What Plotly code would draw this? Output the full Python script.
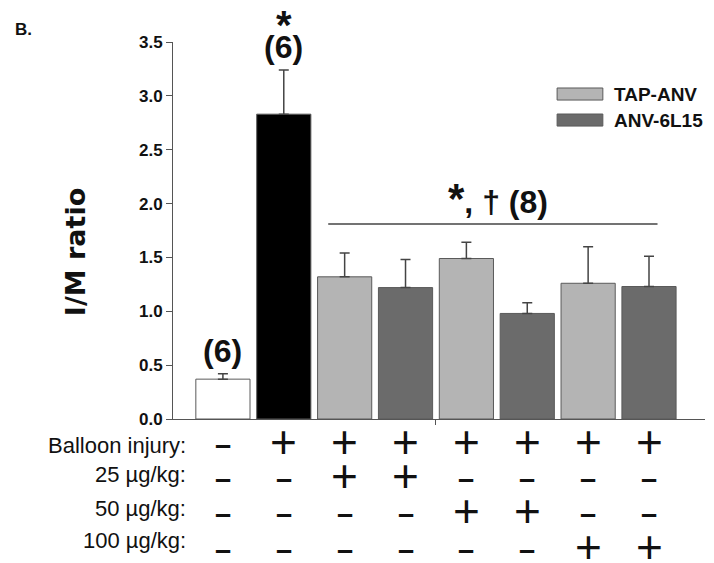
import plotly.graph_objects as go

# ---- data ----
groups = ["Sham", "Injury", "TAP25", "6L15_25", "TAP50", "6L15_50", "TAP100", "6L15_100"]
means = [0.37, 2.83, 1.32, 1.22, 1.49, 0.98, 1.26, 1.23]
sems = [0.05, 0.41, 0.22, 0.26, 0.15, 0.10, 0.34, 0.28]
series = ["Control", "Injury", "TAP-ANV", "ANV-6L15", "TAP-ANV", "ANV-6L15", "TAP-ANV", "ANV-6L15"]
n_labels = ["(6)", "(6)", "", "", "", "", "", ""]
star_labels = ["", "*", "", "", "", "", "", ""]
row_names = ["Balloon injury:", "25 \u00b5g/kg:", "50 \u00b5g/kg:", "100 \u00b5g/kg:"]
row_signs = [
    ["-", "+", "+", "+", "+", "+", "+", "+"],
    ["-", "-", "+", "+", "-", "-", "-", "-"],
    ["-", "-", "-", "-", "+", "+", "-", "-"],
    ["-", "-", "-", "-", "-", "-", "+", "+"],
]
legend_names = ["TAP-ANV", "ANV-6L15"]
group_text = "<span style='font-size:42px'>*</span>, \u2020 (8)"
yticks = [0.0, 0.5, 1.0, 1.5, 2.0, 2.5, 3.0, 3.5]

colors = {"Control": "#ffffff", "Injury": "#000000", "TAP-ANV": "#b4b4b4", "ANV-6L15": "#6b6b6b"}
FONT = "Liberation Sans, Arial, sans-serif"
WIDE = "DejaVu Sans, Liberation Sans, sans-serif"

fig = go.Figure()
for s in ["Control", "Injury", "TAP-ANV", "ANV-6L15"]:
    idx = [i for i, v in enumerate(series) if v == s]
    fig.add_trace(go.Bar(
        x=[groups[i] for i in idx],
        y=[means[i] for i in idx],
        width=0.89,
        marker=dict(color=colors[s], line=dict(color="#5a5a5a", width=1)),
        error_y=dict(type="data", symmetric=False,
                     array=[sems[i] for i in idx],
                     arrayminus=[0 for _ in idx],
                     color="#444444", thickness=1.5, width=5),
        showlegend=False, name=s,
    ))

annotations = []
# n labels and stars
for i, g in enumerate(groups):
    top = means[i] + sems[i]
    if n_labels[i]:
        annotations.append(dict(x=g, y=top, xref="x", yref="y", text="<b>" + n_labels[i] + "</b>",
                                showarrow=False, xanchor="center", yanchor="bottom", yshift=3,
                                font=dict(family=FONT, size=32, color="#111")))
    if star_labels[i]:
        annotations.append(dict(x=g, y=top, xref="x", yref="y", text="<b>" + star_labels[i] + "</b>",
                                showarrow=False, xanchor="center", yanchor="bottom", yshift=21,
                                font=dict(family=FONT, size=40, color="#111")))

# group significance text
annotations.append(dict(x=4.52, y=1.81, xref="x", yref="y", text="<b>" + group_text + "</b>",
                        showarrow=False, xanchor="center", yanchor="bottom",
                        font=dict(family=FONT, size=32, color="#111")))

# y title
annotations.append(dict(x=-0.182, y=0.443, xref="paper", yref="paper", text="<b>I/M ratio</b>",
                        textangle=-90, showarrow=False, xanchor="center", yanchor="middle",
                        font=dict(family=WIDE, size=27, color="#111")))
# panel label
annotations.append(dict(x=-0.30, y=1.034, xref="paper", yref="paper", text="<b>B.</b>",
                        showarrow=False, xanchor="left", yanchor="middle",
                        font=dict(family=FONT, size=17, color="#111")))

# table rows
label_y = [-0.069, -0.148, -0.237, -0.323]
sign_y = [-0.060, -0.151, -0.244, -0.340]
for r, name in enumerate(row_names):
    annotations.append(dict(x=0.029, y=label_y[r], xref="paper", yref="paper", text=name,
                            showarrow=False, xanchor="right", yanchor="middle",
                            font=dict(family=FONT, size=22, color="#111")))
    for i, g in enumerate(groups):
        if row_signs[r][i] == "+":
            txt, fsize, dy = "+", 46, 0
        else:
            txt, fsize, dy = "<b>\u2013</b>", 29, -3
        annotations.append(dict(x=g, y=sign_y[r], xref="x", yref="paper", text=txt,
                                showarrow=False, xanchor="center", yanchor="middle",
                                height=26, yshift=dy,
                                font=dict(family=FONT, size=fsize, color="#111")))

# legend
shapes = []
leg_y = [(0.878, 0.846), (0.809, 0.777)]
for k, name in enumerate(legend_names):
    shapes.append(dict(type="rect", xref="paper", yref="paper", x0=0.722, x1=0.808,
                       y0=leg_y[k][1], y1=leg_y[k][0],
                       fillcolor=colors[name], line=dict(color="#5a5a5a", width=1)))
    annotations.append(dict(x=0.826, y=(leg_y[k][0] + leg_y[k][1]) / 2, xref="paper", yref="paper",
                            text="<b>" + name + "</b>", showarrow=False, xanchor="left", yanchor="middle",
                            font=dict(family=FONT, size=19, color="#111")))

# significance line
shapes.append(dict(type="line", xref="x", yref="y", x0=1.73, x1=7.14, y0=1.81, y1=1.81,
                   line=dict(color="#444444", width=1.5)))

# page body adds an 8px offset, so the figure is 8px smaller and shifted
fig.update_layout(
    width=706, height=555,
    margin=dict(l=165, r=9, t=34, b=144, autoexpand=False),
    paper_bgcolor="white", plot_bgcolor="white",
    barmode="overlay",
    annotations=annotations, shapes=shapes,
    xaxis=dict(type="category", categoryorder="array", categoryarray=groups,
               range=[-0.82, 7.92], showgrid=False, zeroline=False,
               showline=True, linecolor="#555555", linewidth=1,
               tickvals=[3.5], ticks="outside", ticklen=5, tickcolor="#555555",
               showticklabels=False, fixedrange=True),
    yaxis=dict(range=[0, 3.5], tickvals=yticks,
               ticktext=["<b>%.1f</b>" % v for v in yticks],
               showgrid=False, zeroline=False, showline=True, linecolor="#555555", linewidth=1,
               ticks="outside", ticklen=6, tickcolor="#555555",
               tickfont=dict(family=FONT, size=17, color="#111")),
    font=dict(family=FONT, color="#111"),
)

fig.write_html("out.html")
